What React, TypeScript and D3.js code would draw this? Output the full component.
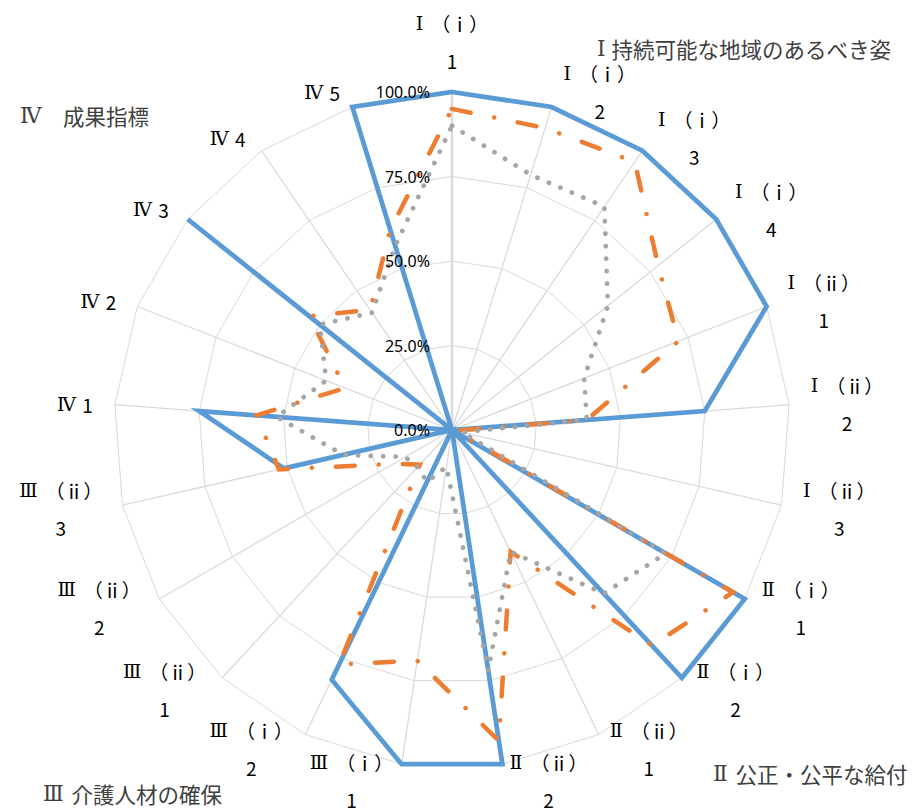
import React from "react";
import * as d3 from "d3";

// radar axes, clockwise from the top
const categories = [
  "Ⅰ（ⅰ）\n1", "Ⅰ（ⅰ）\n2", "Ⅰ（ⅰ）\n3", "Ⅰ（ⅰ）\n4",
  "Ⅰ（ⅱ）\n1", "Ⅰ（ⅱ）\n2", "Ⅰ（ⅱ）\n3",
  "Ⅱ（ⅰ）\n1", "Ⅱ（ⅰ）\n2", "Ⅱ（ⅱ）\n1", "Ⅱ（ⅱ）\n2",
  "Ⅲ（ⅰ）\n1", "Ⅲ（ⅰ）\n2", "Ⅲ（ⅱ）\n1", "Ⅲ（ⅱ）\n2", "Ⅲ（ⅱ）\n3",
  "Ⅳ 1", "Ⅳ 2", "Ⅳ 3", "Ⅳ 4", "Ⅳ 5",
];

const series1 = [1, 1, 1, 1, 1, 0.75, 0, 1, 1, 0, 1, 1, 0.82, 0, 0, 0.51, 0.75, 0, 1, 0, 1];
const series2 = [0.95, 0.935, 0.96, 0.78, 0.72, 0.4, 0.01, 0.96, 0.87, 0.4, 0.93, 0.69, 0.77, 0.14, 0.2, 0.525, 0.58, 0.34, 0.54, 0.43, 0.62];
const series3 = [0.9, 0.79, 0.8, 0.59, 0.42, 0.4, 0.03, 0.73, 0.66, 0.4, 0.72, 0.11, 0.17, 0.15, 0.16, 0.33, 0.52, 0.4, 0.5, 0.42, 0.57];

const tickValues = [0, 0.25, 0.5, 0.75, 1];

const groupTitles = [
  "Ⅰ持続可能な地域のあるべき姿",
  "Ⅱ 公正・公平な給付",
  "Ⅲ 介護人材の確保",
  "Ⅳ　成果指標",
];

const W = 922;
const H = 811;
const cx = 452;
const cy = 430;
const R = 338;
const jp = "'Noto Sans CJK JP', 'Noto Sans', sans-serif";
const serif = "'DejaVu Serif', 'Liberation Serif', 'Noto Sans CJK JP', serif";

// first glyph is a Roman numeral drawn with a serif face, the rest in the CJK face
const RomanText = ({ s, gap = 0 }: { s: string; gap?: number }) => (
  <>
    <tspan fontFamily={serif}>{s[0]}</tspan>
    <tspan fontFamily={jp} dx={gap}>{s.slice(1)}</tspan>
  </>
);

export default function App() {
  const n = categories.length;
  const angle = d3.scaleLinear().domain([0, n]).range([0, 2 * Math.PI]);
  const r = d3.scaleLinear().domain([0, 1]).range([0, R]);
  const fmt = d3.format(".1%");

  const radial = d3
    .lineRadial<number>()
    .angle((_, i) => angle(i))
    .radius((v) => r(v))
    .curve(d3.curveLinearClosed);

  const rings = tickValues.filter((t) => t > 0).map((t) => categories.map(() => t));

  const series = [
    { values: series1, color: "#5B9BD5", width: 4.75, dash: null, cap: "butt" },
    { values: series2, color: "#ED7D31", width: 4.5, dash: "19 24 0.1 24", cap: "round" },
    { values: series3, color: "#A5A5A5", width: 4.75, dash: "0.1 12.4", cap: "round" },
  ];

  const labels = categories.map((c, i) => {
    const a = angle(i);
    const s = Math.sin(a);
    const co = Math.cos(a);
    const px = cx + R * s;
    const py = cy - R * co;
    const lines = c.split("\n");
    const w = lines.length > 1 ? (c[0] === "Ⅲ" ? 84 : 76) : 40;
    let x = px;
    let y = py;
    if (Math.abs(s) < 0.05) {
      y = py - 51;
    } else {
      x = px + Math.sign(s) * (w / 2 + 6 + 14 * Math.abs(s));
      y = py - co * 16;
    }
    return { lines, x, y };
  });

  return (
    <svg
      width={W}
      height={H}
      style={{ position: "absolute", left: 0, top: 0, background: "#fff" }}
    >
      <g transform={`translate(${cx},${cy})`}>
        {rings.map((ring, k) => (
          <path key={k} d={radial(ring) ?? ""} fill="none" stroke="#D9D9D9" strokeWidth={1} />
        ))}
        {categories.map((_, i) => (
          <line
            key={i}
            x1={0}
            y1={0}
            x2={r(1) * Math.sin(angle(i))}
            y2={-r(1) * Math.cos(angle(i))}
            stroke="#D9D9D9"
            strokeWidth={i === 0 ? 2.25 : 1.25}
          />
        ))}
        {series.map((s, k) => (
          <path
            key={k}
            d={radial(s.values) ?? ""}
            fill="none"
            stroke={s.color}
            strokeWidth={s.width}
            strokeDasharray={s.dash ?? undefined}
            strokeLinecap={s.cap as any}
            strokeLinejoin="miter"
            strokeMiterlimit={4}
          />
        ))}
        {tickValues.map((t) => (
          <text
            key={t}
            x={-22}
            y={-r(t)}
            textAnchor="end"
            dominantBaseline="central"
            fontFamily="'Noto Sans', sans-serif"
            fontSize={16}
            fill="#000"
          >
            {fmt(t)}
          </text>
        ))}
      </g>

      {labels.map((l, i) => (
        <text
          key={i}
          textAnchor="middle"
          fontFamily={jp}
          fontSize={19}
          fill="#000"
          dominantBaseline="central"
        >
          {l.lines.length > 1 ? (
            <>
              <tspan x={l.x} y={l.y - 18.5}>
                <RomanText s={l.lines[0]} gap={8} />
              </tspan>
              <tspan x={l.x} y={l.y + 18.5}>{l.lines[1]}</tspan>
            </>
          ) : (
            <tspan x={l.x} y={l.y}>
              <RomanText s={l.lines[0]} gap={2} />
            </tspan>
          )}
        </text>
      ))}

      <g fontSize={21.5} fill="#404040" dominantBaseline="central">
        <text x={597} y={48}><RomanText s={groupTitles[0]} gap={6} /></text>
        <text x={713} y={773}><RomanText s={groupTitles[1]} gap={3} /></text>
        <text x={43} y={793}><RomanText s={groupTitles[2]} gap={3} /></text>
        <text x={20} y={115}><RomanText s={groupTitles[3]} /></text>
      </g>
    </svg>
  );
}
